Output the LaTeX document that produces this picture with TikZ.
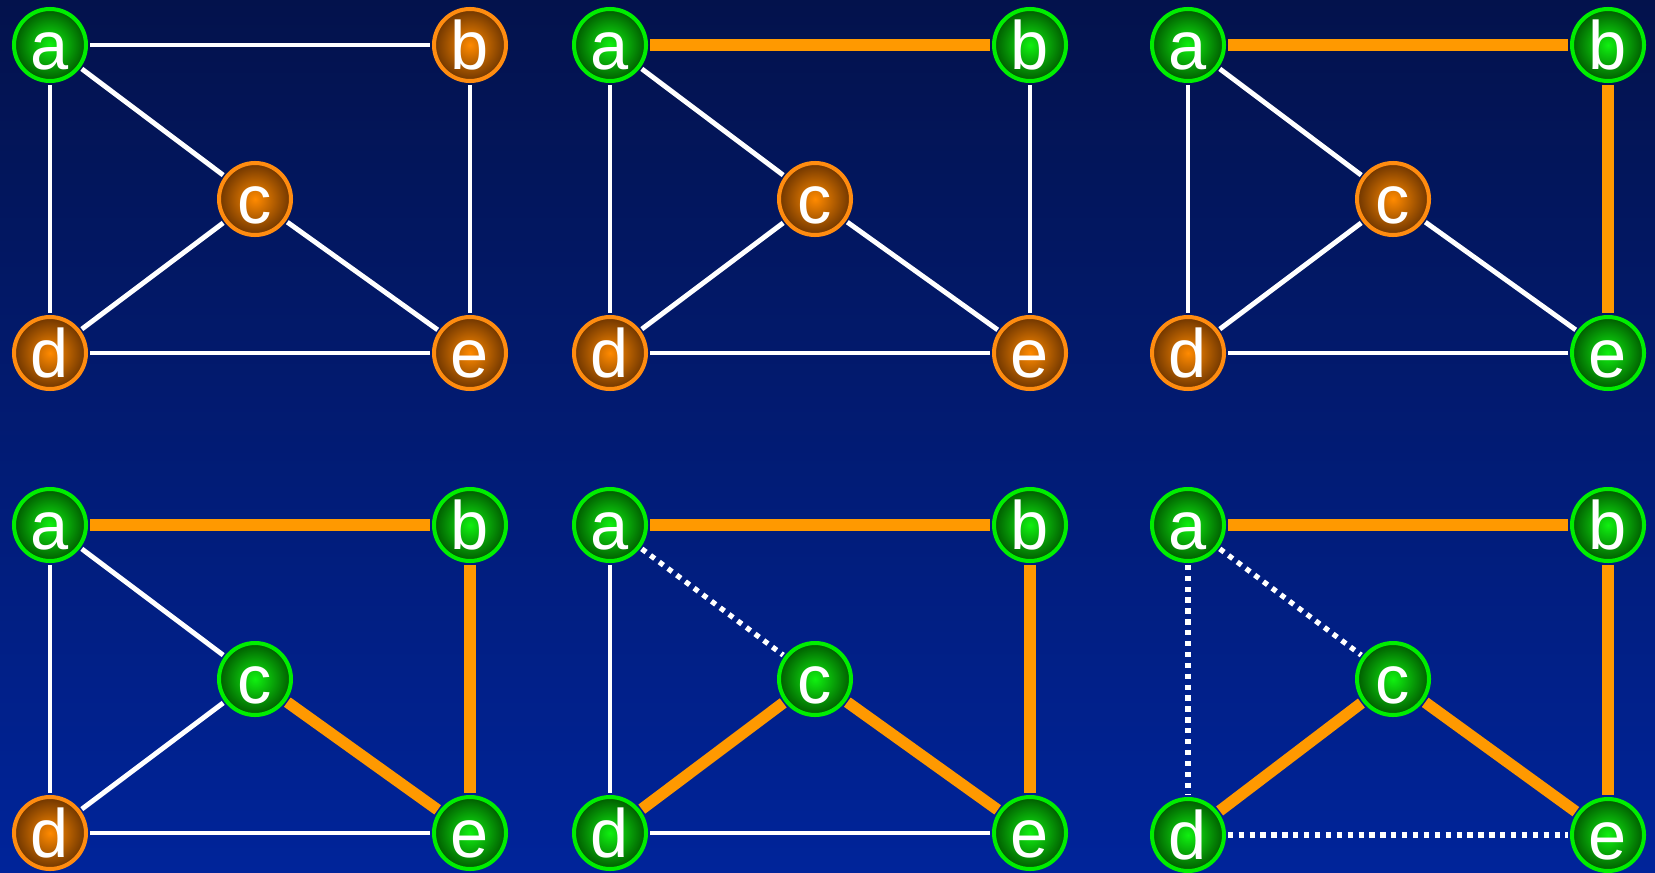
\documentclass[tikz,border=0pt]{standalone}
\usepackage{fontspec}
\setmainfont{Liberation Sans}
\usepackage{tikz}
\usetikzlibrary{positioning}

\definecolor{bgtop}{HTML}{03124C}
\definecolor{bgbottom}{HTML}{00249A}
\definecolor{greencore}{HTML}{10F010}
\definecolor{greenouter}{HTML}{005A00}
\definecolor{greenring}{HTML}{00EE00}
\definecolor{orangecore}{HTML}{FF8A00}
\definecolor{orangeouter}{HTML}{6E3500}
\definecolor{orangering}{HTML}{FF8C10}
\definecolor{treeorange}{HTML}{FF9900}

\tikzset{
	vertex/.style={circle, inner sep=0pt, minimum size=1.44cm, line width=2.3pt,
		shading=radial, text=white, font=\fontsize{39}{42}\selectfont,
		text height=28pt, text depth=0pt},
	reached/.style={vertex, inner color=greencore, outer color=greenouter, draw=greenring},
	waiting/.style={vertex, inner color=orangecore, outer color=orangeouter, draw=orangering},
	plainedge/.style={draw=white, line width=2.8pt, shorten <=1pt, shorten >=1pt},
	treeedge/.style={draw=treeorange, line width=6.5pt, shorten <=1pt, shorten >=1pt},
	droppededge/.style={draw=white, line width=3pt, dash pattern=on 3pt off 3.2pt,
		shorten <=1pt, shorten >=1pt}
}

\begin{document}
\begin{tikzpicture}[x=0.02cm, y=-0.02cm]

	% background, fixes the bounding box too
	\shade[top color=bgtop, bottom color=bgbottom] (0,0) rectangle (1655,872);
	\useasboundingbox (0,0) rectangle (1655,872);

	% vertices sit at (0,0), (420,0), (205,154), (0,308), (420,308) in each panel

	%%%%%%%%%%%%%%%%%%%%%%%%%%%%%%%%%%%%%%%%%%%%%%%%%%%%%%%%%%%%%%
	% Panel 1
	\begin{scope}[shift={(50,45)}]
		\node[reached] (a1) at (0,0) {a};
		\node[waiting] (b1) at (420,0) {b};
		\node[waiting] (c1) at (205,154) {c};
		\node[waiting] (d1) at (0,308) {d};
		\node[waiting] (e1) at (420,308) {e};

		\draw[plainedge] (a1) -- (b1);
		\draw[plainedge] (a1) -- (c1);
		\draw[plainedge] (a1) -- (d1);
		\draw[plainedge] (b1) -- (e1);
		\draw[plainedge] (c1) -- (d1);
		\draw[plainedge] (c1) -- (e1);
		\draw[plainedge] (d1) -- (e1);
	\end{scope}

	% Panel 2
	\begin{scope}[shift={(610,45)}]
		\node[reached] (a2) at (0,0) {a};
		\node[reached] (b2) at (420,0) {b};
		\node[waiting] (c2) at (205,154) {c};
		\node[waiting] (d2) at (0,308) {d};
		\node[waiting] (e2) at (420,308) {e};

		\draw[treeedge]  (a2) -- (b2);
		\draw[plainedge] (a2) -- (c2);
		\draw[plainedge] (a2) -- (d2);
		\draw[plainedge] (b2) -- (e2);
		\draw[plainedge] (c2) -- (d2);
		\draw[plainedge] (c2) -- (e2);
		\draw[plainedge] (d2) -- (e2);
	\end{scope}

	% Panel 3
	\begin{scope}[shift={(1188,45)}]
		\node[reached] (a3) at (0,0) {a};
		\node[reached] (b3) at (420,0) {b};
		\node[waiting] (c3) at (205,154) {c};
		\node[waiting] (d3) at (0,308) {d};
		\node[reached] (e3) at (420,308) {e};

		\draw[treeedge]  (a3) -- (b3);
		\draw[plainedge] (a3) -- (c3);
		\draw[plainedge] (a3) -- (d3);
		\draw[treeedge]  (b3) -- (e3);
		\draw[plainedge] (c3) -- (d3);
		\draw[plainedge] (c3) -- (e3);
		\draw[plainedge] (d3) -- (e3);
	\end{scope}

	%%%%%%%%%%%%%%%%%%%%%%%%%%%%%%%%%%%%%%%%%%%%%%%%%%%%%%%%%%%%%%
	% Panel 4
	\begin{scope}[shift={(50,525)}]
		\node[reached] (a4) at (0,0) {a};
		\node[reached] (b4) at (420,0) {b};
		\node[reached] (c4) at (205,154) {c};
		\node[waiting] (d4) at (0,308) {d};
		\node[reached] (e4) at (420,308) {e};

		\draw[treeedge]  (a4) -- (b4);
		\draw[plainedge] (a4) -- (c4);
		\draw[plainedge] (a4) -- (d4);
		\draw[treeedge]  (b4) -- (e4);
		\draw[plainedge] (c4) -- (d4);
		\draw[treeedge]  (c4) -- (e4);
		\draw[plainedge] (d4) -- (e4);
	\end{scope}

	% Panel 5
	\begin{scope}[shift={(610,525)}]
		\node[reached] (a5) at (0,0) {a};
		\node[reached] (b5) at (420,0) {b};
		\node[reached] (c5) at (205,154) {c};
		\node[reached] (d5) at (0,308) {d};
		\node[reached] (e5) at (420,308) {e};

		\draw[treeedge]    (a5) -- (b5);
		\draw[droppededge] (a5) -- (c5);
		\draw[plainedge]   (a5) -- (d5);
		\draw[treeedge]    (b5) -- (e5);
		\draw[treeedge]    (c5) -- (d5);
		\draw[treeedge]    (c5) -- (e5);
		\draw[plainedge]   (d5) -- (e5);
	\end{scope}

	% Panel 6
	\begin{scope}[shift={(1188,525)}]
		\node[reached] (a6) at (0,0) {a};
		\node[reached] (b6) at (420,0) {b};
		\node[reached] (c6) at (205,154) {c};
		\node[reached] (d6) at (0,310) {d};
		\node[reached] (e6) at (420,310) {e};

		\draw[treeedge]    (a6) -- (b6);
		\draw[droppededge] (a6) -- (c6);
		\draw[droppededge] (a6) -- (d6);
		\draw[treeedge]    (b6) -- (e6);
		\draw[treeedge]    (c6) -- (d6);
		\draw[treeedge]    (c6) -- (e6);
		\draw[droppededge] (d6) -- (e6);
	\end{scope}

\end{tikzpicture}
\end{document}
